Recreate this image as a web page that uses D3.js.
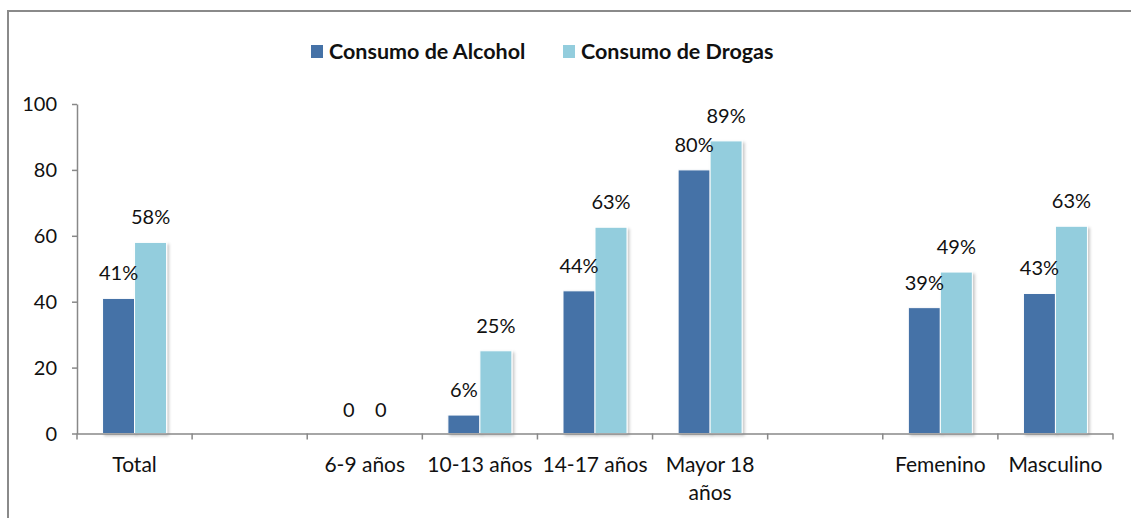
<html>
<head>
<meta charset="utf-8">
<script src="https://d3js.org/d3.v7.min.js"></script>
<style>
  body { margin: 0; background: #fff; }
  svg text { font-family: Lato, "Open Sans", sans-serif; fill: #111; }
</style>
</head>
<body>
<svg id="svg" width="1131" height="518"></svg>
<script>
// data
var categories = ["Total", "", "6-9 años", "10-13 años", "14-17 años", "Mayor 18 años", " ", "Femenino", "Masculino"];
var seriesNames = ["Consumo de Alcohol", "Consumo de Drogas"];
var alcohol = [41, null, 0, 5.6, 43.3, 80, null, 38.2, 42.5];
var drogas = [58, null, 0, 25.1, 62.6, 88.8, null, 49, 62.9];
var alcoholLabels = ["41%", null, "0", "6%", "44%", "80%", null, "39%", "43%"];
var drogasLabels = ["58%", null, "0", "25%", "63%", "89%", null, "49%", "63%"];
var yTicks = [0, 20, 40, 60, 80, 100];
var colors = ["#4572a7", "#93cddd"];

var svg = d3.select("svg");
var width = +svg.attr("width");
var height = +svg.attr("height");
var plotLeft = 77, plotRight = 1113, plotTop = 104, plotBottom = 433.5;
var fs = 20;

// outer frame (only left and top visible)
svg.append("path")
    .attr("d", "M8,518 V11 H1131")
    .attr("fill", "none")
    .attr("stroke", "#8a8a8a")
    .attr("stroke-width", 2);

var defs = svg.append("defs");
var f = defs.append("filter").attr("id", "shadow")
    .attr("x", "-20%").attr("y", "-10%").attr("width", "150%").attr("height", "130%");
f.append("feDropShadow").attr("dx", 2).attr("dy", 2).attr("stdDeviation", 1.5)
    .attr("flood-color", "#000").attr("flood-opacity", 0.22);

var x0 = d3.scaleBand().domain(categories).range([plotLeft, plotRight]).padding(0);
var bw = x0.bandwidth();
var x1 = d3.scaleBand().domain(seriesNames).range([bw * 0.222, bw * 0.778]).padding(0);
var y = d3.scaleLinear().domain([0, 100]).range([plotBottom, plotTop]);

// y axis
var yAxis = svg.append("g")
    .attr("transform", "translate(" + plotLeft + ",0)")
    .call(d3.axisLeft(y).tickValues(yTicks).tickSize(5).tickPadding(15).tickSizeOuter(0));
yAxis.select(".domain").attr("stroke", "#888").attr("stroke-width", 1.5);
yAxis.selectAll(".tick line").attr("stroke", "#888").attr("stroke-width", 1.5);
yAxis.selectAll(".tick text").attr("font-size", fs).attr("dy", "0.34em").style("font-family", "Lato");

// bars
var rows = categories.map(function(c, i) {
    return [
        {cat: c, s: seriesNames[0], v: alcohol[i], label: alcoholLabels[i]},
        {cat: c, s: seriesNames[1], v: drogas[i], label: drogasLabels[i]}
    ];
});
var groups = svg.append("g").selectAll("g").data(rows).enter().append("g")
    .attr("transform", function(d) { return "translate(" + x0(d[0].cat) + ",0)"; });

groups.selectAll("rect").data(function(d) { return d.filter(function(e) { return e.v !== null && e.v > 0; }); })
    .enter().append("rect")
    .attr("x", function(d) { return x1(d.s); })
    .attr("y", function(d) { return y(d.v); })
    .attr("width", x1.bandwidth())
    .attr("height", function(d) { return y(0) - y(d.v); })
    .attr("fill", function(d) { return colors[seriesNames.indexOf(d.s)]; })
    .attr("stroke", "#fff")
    .attr("stroke-width", 1)
    .attr("filter", "url(#shadow)");

groups.selectAll("text.val").data(function(d) { return d.filter(function(e) { return e.label !== null; }); })
    .enter().append("text")
    .attr("class", "val")
    .attr("x", function(d) { return x1(d.s) + x1.bandwidth() / 2; })
    .attr("y", function(d) { return y(d.v) - (d.v > 0 ? 18 : 17); })
    .attr("text-anchor", "middle")
    .attr("font-size", fs)
    .text(function(d) { return d.label; });

// x axis
var xg = svg.append("g");
xg.append("line")
    .attr("x1", plotLeft).attr("x2", plotRight)
    .attr("y1", plotBottom + 0.5).attr("y2", plotBottom + 0.5)
    .attr("stroke", "#888").attr("stroke-width", 1.5);
var bounds = categories.map(function(c) { return x0(c); }).concat([x0.range()[1]]);
xg.selectAll("line.tk").data(bounds).enter().append("line")
    .attr("class", "tk")
    .attr("x1", function(d) { return d; }).attr("x2", function(d) { return d; })
    .attr("y1", plotBottom).attr("y2", plotBottom + 6)
    .attr("stroke", "#888").attr("stroke-width", 1.5);

var catText = xg.selectAll("text.cat").data(categories).enter().append("text")
    .attr("class", "cat")
    .attr("x", function(d) { return x0(d) + bw / 2; })
    .attr("y", 472)
    .attr("text-anchor", "middle")
    .attr("font-size", 21);
catText.each(function(d) {
    var t = d3.select(this);
    var words = d.trim().split(" ");
    var line = [];
    var ts = t.append("tspan").attr("x", x0(d) + bw / 2).attr("dy", 0);
    words.forEach(function(w) {
        line.push(w);
        ts.text(line.join(" "));
        if (ts.node().getComputedTextLength() > bw - 2 && line.length > 1) {
            line.pop();
            ts.text(line.join(" "));
            line = [w];
            ts = t.append("tspan").attr("x", x0(d) + bw / 2).attr("dy", 28).text(w);
        }
    });
});

// legend
var legendX = [311, 563];
var legend = svg.append("g").selectAll("g").data(seriesNames).enter().append("g")
    .attr("transform", function(d, i) { return "translate(" + legendX[i] + ",45)"; });
legend.append("rect")
    .attr("width", 12).attr("height", 13)
    .attr("fill", function(d, i) { return colors[i]; });
legend.append("text")
    .attr("x", 18).attr("y", 14)
    .attr("font-size", 21.5).attr("font-weight", "bold")
    .text(function(d) { return d; });
</script>
</body>
</html>
